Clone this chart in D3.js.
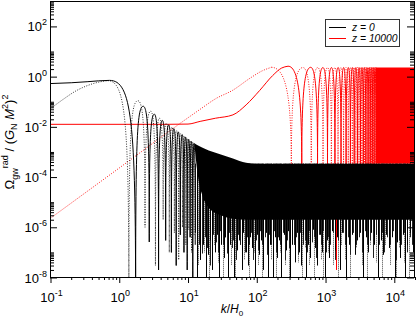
<!DOCTYPE html>
<html>
<head>
<meta charset="utf-8">
<script src="https://cdn.jsdelivr.net/npm/d3@7"></script>
<style>
body { margin: 0; background: #fff; }
svg { display: block; font-family: "Liberation Sans", Arial, Helvetica, sans-serif; }
</style>
</head>
<body>
<svg id="chart" width="417" height="321"></svg>
<script>
// ---- values (k/H0 , Omega) ----
// z = 0, solid
var s0Lead  = [[0.1,0.53],[0.2,0.57],[0.35,0.63],[0.5,0.68],[0.72,0.71]];
var s0Zeros = [[1.73,1e-9],[2.73,2.6e-7],[3.73,2e-8],[4.73,3e-7],[5.73,1e-7],[6.73,3e-8],[7.73,5e-7],[8.73,1e-7],[9.73,2e-8],[10.73,4e-7],[11.73,1e-9],[12.73,2e-7]];
var s0Peaks = [[2.23,0.066],[3.23,0.032],[4.23,0.018],[5.23,0.012],[6.23,0.0085],[7.23,0.0063],[8.23,0.0049],[9.23,0.0039],[10.23,0.0032],[11.23,0.0026],[12.23,0.0022]];
// z = 0, dotted
var d0Lead  = [[0.1,0.053],[0.15,0.12],[0.24,0.28],[0.33,0.42],[0.45,0.56],[0.6,0.66],[0.68,0.69]];
var d0Zeros = [[1.38,1e-9],[2.37,1e-6],[3.36,3e-8],[4.35,2e-6],[5.34,1e-7],[6.33,6e-7],[7.32,5e-8],[8.31,1e-6],[9.3,2e-7],[10.29,8e-7],[11.28,1e-7],[12.27,5e-7]];
var d0Peaks = [[1.87,0.11],[2.86,0.042],[3.85,0.022],[4.84,0.014],[5.83,0.0097],[6.82,0.0071],[7.81,0.0054],[8.8,0.0043],[9.79,0.0034],[10.78,0.0028],[11.77,0.0024]];
// z = 0, unresolved oscillation: [k, top, floor]
var band0 = [[12.4,2.2e-3,2e-3],[14,1.8e-3,1e-4],[16,1.5e-3,2e-5],[20,1.15e-3,6e-6],[30,8e-4,3e-6],[45,5.5e-4,2.2e-6],[70,3.7e-4,2e-6],[100,3.4e-4,2e-6],[2e4,3.4e-4,2e-6]];
// z = 0, troughs below the dense part
var spikes0 = [[13.5,1e-9],[15,5e-8],[16.5,2e-7],[18,1e-9],[19.5,8e-8],[21,3e-7],[22.5,2e-8],[24.5,1e-7],[26,5e-7],[28,1e-9],[30.5,2e-7],[33,6e-8],[35,4e-7],[38,1e-8],[41,2e-7],[44,7e-7],[47,1e-9],[51,1.2e-7],[55,3e-7],[60,2e-8],[64,6e-7],[69,1e-7],[75,3e-8],[80,4e-7],[86,1.5e-7],[93,1e-9],[100,5e-7],[108,8e-8],[116,3e-7],[125,2e-8],[135,6e-7],[145,1e-9],[157,2e-7],[170,1e-9],[183,4e-7],[197,6e-8],[212,3e-7],[228,1e-8],[246,5e-7],[265,1.2e-7],[285,7e-7],[305,1e-9],[330,2e-7],[355,4e-8],[382,6e-7],[410,1e-7],[442,3e-8],[475,5e-7],[526,1e-9],[560,2e-7],[600,6e-8],[650,8e-7],[700,1.5e-7],[760,3e-8],[820,5e-7],[890,1e-7],[970,1e-9],[1050,3e-7],[1140,6e-8],[1240,7e-7],[1350,1.2e-7],[1460,4e-7],[1600,2e-8],[1750,6e-7],[2005,1e-9],[2200,2e-7],[2400,5e-7],[2650,8e-8],[2900,3e-7],[3200,6e-7],[3500,1e-8],[3850,4e-7],[4200,1e-7],[4650,6e-7],[5100,2e-7],[5710,1e-9],[6300,3e-7],[6900,8e-8],[7600,5e-7],[8400,1.5e-7],[9200,4e-7],[10090,1e-9],[11000,2.5e-7],[12100,6e-8],[13200,5e-7],[14090,1e-9],[15500,2e-7],[17000,6e-7],[18500,1e-7],[19800,4e-7]];
var spikesMid0 = [[12.8,6e-7],[14.6,2e-7],[16,9e-8],[17.6,4e-7],[19,1.5e-7],[20.6,3e-8],[23,5e-7],[25.2,2.5e-7],[27.2,1e-7],[29.5,7e-7],[32,2e-7],[34,4e-7],[36.8,9e-8],[39.5,6e-7],[43,1.5e-7],[45.5,3e-7],[49.5,5e-8],[53,5e-7],[57.5,2e-7],[62,8e-7],[67,1e-7],[72,4e-7],[78,2e-7],[83,6e-7],[89,5e-8],[96,3e-7],[104,1.2e-7],[112,7e-7],[121,2e-7],[130,4e-7],[140,8e-8],[151,5e-7],[163,2e-7],[176,7e-7],[190,1e-7],[204,4e-7],[220,2e-7],[237,6e-7],[256,5e-8],[276,3e-7],[298,1.5e-7],[320,6e-7],[345,2e-7],[372,4e-7],[400,8e-8],[430,6e-7],[465,2e-7],[500,3e-7],[540,1e-7],[580,7e-7],[625,2.5e-7],[675,4e-7],[730,6e-8],[790,5e-7],[850,2e-7],[920,7e-7],[1000,1e-7],[1080,4e-7],[1170,2e-7],[1270,6e-7],[1380,5e-8],[1500,3e-7],[1630,1.5e-7],[1770,6e-7],[1920,2e-7],[2090,4e-7],[2280,8e-8],[2500,6e-7],[2750,2e-7],[3050,4e-7],[3350,1e-7],[3700,7e-7],[4050,2e-7],[4450,3e-7],[4900,6e-8],[5400,5e-7],[5950,2e-7],[6550,6e-7],[7200,1e-7],[7950,4e-7],[8750,2e-7],[9650,7e-7],[10600,5e-8],[11600,3e-7],[12700,2e-7],[13900,6e-7],[15200,1e-7],[16700,4e-7],[18300,2e-7],[19700,7e-7]];
var spikesDot0 = [[14.2,3e-8],[17.2,1e-7],[20.3,1e-8],[23.6,2e-7],[27,4e-8],[31.8,1e-8],[36.5,1e-7],[42.5,3e-8],[49,1e-8],[57,2e-7],[66,5e-8],[77,1e-8],[90,1e-7],[104,3e-8],[120,1e-8],[140,2e-7],[163,5e-8],[190,1e-8],[220,1e-7],[255,3e-8],[295,1e-8],[342,2e-7],[395,4e-8],[458,1e-8],[510,1.5e-7],[580,3e-8],[675,1e-8],[730,2e-7],[850,5e-8],[930,1e-8],[1100,1e-7],[1300,3e-8],[1530,1e-8],[1680,2e-7],[1900,5e-8],[2300,1e-8],[2770,1.5e-7],[3350,3e-8],[4000,1e-8],[4450,2e-7],[5400,4e-8],[6600,1e-8],[7300,2e-7],[8800,3e-8],[10500,1e-8],[11600,1.5e-7],[13700,4e-8],[16200,1e-8],[19000,2e-7]];
// z = 10000, solid
var s4Lead  = [[0.1,0.0126],[5,0.0126],[10,0.0129],[15,0.0165],[25,0.022],[45,0.03],[70,0.075],[110,0.28],[170,1.1],[230,2.2],[285,2.6]];
var s4Zeros = [[451,2e-4],[765,2e-4],[1068,2e-4],[1370,2e-4],[1680,2e-4],[1990,2e-4],[2300,2e-4],[2610,2e-4],[2920,2e-4],[3230,2e-4],[3540,2e-4],[3850,2e-4],[4160,2e-4],[4470,2e-4],[4780,2e-4],[5090,2e-4],[5400,2e-4]];
var s4Peaks = [[608,2.35],[916,2.3],[1219,2.3],[1525,2.3],[1835,2.3],[2145,2.3],[2455,2.3],[2765,2.3],[3075,2.3],[3385,2.3],[3695,2.3],[4005,2.3],[4315,2.3],[4625,2.3],[4935,2.3],[5245,2.3]];
// z = 10000, dotted
var d4Lead  = [[0.1,2.3e-6],[1,2.3e-4],[10,0.023],[15,0.05],[25,0.13],[45,0.29],[80,0.87],[120,1.7],[163,2.35]];
var d4Zeros = [[318,2e-4],[620,2e-4],[920,2e-4],[1215,2e-4],[1520,2e-4],[1830,2e-4],[2140,2e-4],[2450,2e-4],[2760,2e-4],[3070,2e-4],[3380,2e-4],[3690,2e-4],[4000,2e-4],[4310,2e-4],[4620,2e-4],[4930,2e-4],[5240,2e-4],[5550,2e-4]];
var d4Peaks = [[469,2.3],[770,2.3],[1068,2.3],[1368,2.3],[1675,2.3],[1985,2.3],[2295,2.3],[2605,2.3],[2915,2.3],[3225,2.3],[3535,2.3],[3845,2.3],[4155,2.3],[4465,2.3],[4775,2.3],[5085,2.3],[5395,2.3]];
var band4 = [[5400,2.3,3.4e-4],[2e4,2.3,3.4e-4]];
var spikes4 = [[330,3e-7],[1430,2e-8],[10500,2e-7]];

var xMajor = [0.1, 1, 10, 100, 1000, 10000];
var xExp = ["-1", "0", "1", "2", "3", "4"];
var yMajor = [1e-8, 1e-6, 1e-4, 1e-2, 1, 100];
var yExp = ["-8", "-6", "-4", "-2", "0", "2"];
var legendItems = [["z = 0", "#000"], ["z = 10000", "#ff0000"]];

// ---- layout ----
var X0 = 50.5, X1 = 414.5, Y0 = 1.5, Y1 = 277.5;
var svg = d3.select("#chart");
var x = d3.scaleLog().domain([0.1, 2e4]).range([X0, 415]);
var y = d3.scaleLog().domain([1e-8, 1e3]).range([Y1, 1.3]);

svg.append("clipPath").attr("id", "plot")
  .append("rect").attr("x", X0).attr("y", Y0).attr("width", X1 - X0).attr("height", Y1 - Y0);
var gPlot = svg.append("g").attr("clip-path", "url(#plot)");

// smooth lead-in, then arches: flat at the peaks, vertical at the zeros
function curvePath(lead, zeros, peaks) {
  var pts = lead.map(function(d) { return [x(d[0]), y(d[1])]; });
  var head = d3.line().curve(d3.curveMonotoneX)(pts);
  var p = d3.path();
  var prev = { x: pts[pts.length - 1][0], y: pts[pts.length - 1][1], zero: false };
  p.moveTo(prev.x, prev.y);
  zeros.forEach(function(z, i) {
    var seq = [{ x: x(z[0]), y: y(z[1]), zero: true }];
    if (peaks[i]) seq.push({ x: x(peaks[i][0]), y: y(peaks[i][1]), zero: false });
    seq.forEach(function(b) {
      var dx = Math.abs(b.x - prev.x);
      if (b.zero) {
        var bend = prev.y + Math.min(40, 0.5 * (b.y - prev.y));
        p.bezierCurveTo(b.x - 0.15 * dx, prev.y, b.x, bend, b.x, b.y);
      } else {
        var bend2 = b.y + Math.min(40, 0.5 * (prev.y - b.y));
        p.bezierCurveTo(prev.x, bend2, prev.x + 0.15 * dx, b.y, b.x, b.y);
      }
      prev = b;
    });
  });
  return head + p.toString();
}

var band = d3.area().curve(d3.curveMonotoneX)
  .x(function(d) { return x(d[0]); })
  .y0(function(d) { return y(d[2]); })
  .y1(function(d) { return y(d[1]); });

// vertical troughs, drawn from the flat top down to their depth
function spikePath(data) {
  var p = d3.path();
  data.forEach(function(d) {
    var sx = Math.round(x(d[0])) + 0.5;
    p.moveTo(sx, y(3.4e-4));
    p.lineTo(sx, y(d[1]));
  });
  return p.toString();
}

// z = 10000 underneath
gPlot.append("path").attr("d", curvePath(d4Lead, d4Zeros, d4Peaks))
  .attr("fill", "none").attr("stroke", "#ff0000").attr("stroke-width", 1)
  .attr("stroke-dasharray", "1,1.5").attr("opacity", 0.9);
gPlot.append("path").attr("d", curvePath(s4Lead, s4Zeros, s4Peaks))
  .attr("fill", "none").attr("stroke", "#ff0000").attr("stroke-width", 1);
gPlot.append("path").attr("d", band(band4)).attr("fill", "#ff0000");
gPlot.append("path").attr("d", spikePath(spikes4))
  .attr("fill", "none").attr("stroke", "#ff0000").attr("stroke-width", 1);

// z = 0 on top
gPlot.append("path").attr("d", spikePath(spikesDot0))
  .attr("fill", "none").attr("stroke", "#444").attr("stroke-width", 1).attr("stroke-dasharray", "1,1");
gPlot.append("path").attr("d", spikePath(spikesMid0))
  .attr("fill", "none").attr("stroke", "#222").attr("stroke-width", 1);
gPlot.append("path").attr("d", spikePath(spikes0))
  .attr("fill", "none").attr("stroke", "#000").attr("stroke-width", 1);
gPlot.append("path").attr("d", band(band0)).attr("fill", "#000");
gPlot.append("path").attr("d", curvePath(d0Lead, d0Zeros, d0Peaks))
  .attr("fill", "none").attr("stroke", "#000").attr("stroke-width", 1)
  .attr("stroke-dasharray", "1,1.5").attr("opacity", 0.8);
gPlot.append("path").attr("d", curvePath(s0Lead, s0Zeros, s0Peaks))
  .attr("fill", "none").attr("stroke", "#000").attr("stroke-width", 1);

// ---- axes ----
function minors(lo, hi, step, from, to) {
  var out = [];
  for (var e = lo; e <= hi; e += step)
    for (var m = from; m <= to; m++) out.push(m * Math.pow(10, e));
  return out;
}
var xMinor = minors(-1, 4, 1, 2, 9).filter(function(v) { return v <= 2e4; });
var yMinor = minors(-8, 2, 2, 2, 10);

function clean(g) { g.select(".domain").remove(); g.selectAll("line").attr("stroke", "#000"); }

svg.append("g").attr("transform", "translate(0," + (Y1 - 0.5) + ")")
  .call(d3.axisBottom(x).tickValues(xMajor).tickSize(6).tickFormat("")).call(clean);
svg.append("g").attr("transform", "translate(0," + (Y1 - 0.5) + ")")
  .call(d3.axisBottom(x).tickValues(xMinor).tickSize(3).tickFormat("")).call(clean);
[[X0 - 0.5, d3.axisLeft], [X1 - 0.5, d3.axisRight]].forEach(function(a) {
  svg.append("g").attr("transform", "translate(" + a[0] + ",0)")
    .call(a[1](y).tickValues(yMajor).tickSizeInner(-7).tickSizeOuter(0).tickFormat("")).call(clean);
  svg.append("g").attr("transform", "translate(" + a[0] + ",0)")
    .call(a[1](y).tickValues(yMinor).tickSizeInner(-4).tickSizeOuter(0).tickFormat("")).call(clean);
});

svg.append("rect").attr("x", X0).attr("y", Y0).attr("width", X1 - X0).attr("height", Y1 - Y0)
  .attr("fill", "none").attr("stroke", "#000").attr("stroke-width", 1);

// tick labels 10^n
svg.append("g").selectAll("text").data(xMajor).enter().append("text")
  .attr("x", function(d) { return x(d) + 1; }).attr("y", 302)
  .attr("text-anchor", "middle").attr("font-size", 13)
  .each(function(d, i) {
    var t = d3.select(this);
    t.append("tspan").text("10");
    t.append("tspan").attr("dy", -6).attr("font-size", 9).text(xExp[i]);
  });
svg.append("g").selectAll("text").data(yMajor).enter().append("text")
  .attr("x", 47).attr("y", function(d) { return y(d) + 5; })
  .attr("text-anchor", "end").attr("font-size", 13)
  .each(function(d, i) {
    var t = d3.select(this);
    t.append("tspan").text("10");
    t.append("tspan").attr("dy", -6).attr("font-size", 9).text(yExp[i]);
  });

// axis titles
var xt = svg.append("text").attr("x", 232).attr("y", 313).attr("text-anchor", "middle").attr("font-size", 12);
xt.append("tspan").attr("font-style", "italic").text("k");
xt.append("tspan").text("/");
xt.append("tspan").attr("font-style", "italic").text("H");
xt.append("tspan").attr("dy", 3).attr("font-size", 8).text("0");

var yt = svg.append("text").attr("transform", "translate(14,142) rotate(-90)")
  .attr("text-anchor", "middle").attr("font-size", 13);
yt.append("tspan").text("Ω");
yt.append("tspan").attr("dy", 4).attr("font-size", 9).text("gw");
yt.append("tspan").attr("dy", -10).attr("font-size", 9).text("rad");
yt.append("tspan").attr("dy", 6).text(" / (");
yt.append("tspan").attr("font-style", "italic").text("G");
yt.append("tspan").attr("dy", 3).attr("font-size", 9).text("N");
yt.append("tspan").attr("dy", -3).attr("font-style", "italic").text(" M");
yt.append("tspan").attr("dy", -6).attr("font-size", 9).text("2");
yt.append("tspan").attr("dy", 6).text(")");
yt.append("tspan").attr("dy", -6).attr("font-size", 9).text("2");

// legend
var lg = svg.append("g");
lg.append("rect").attr("x", 325.5).attr("y", 19.5).attr("width", 74).attr("height", 27)
  .attr("fill", "#fff").attr("stroke", "#333");
lg.selectAll("g").data(legendItems).enter().append("g")
  .attr("transform", function(d, i) { return "translate(0," + (27.5 + i * 11) + ")"; })
  .each(function(d) {
    var g = d3.select(this);
    g.append("line").attr("x1", 329).attr("x2", 346).attr("stroke", d[1]);
    g.append("text").attr("x", 352).attr("y", 3.5).attr("font-size", 10.3)
      .attr("font-style", "italic").text(d[0]);
  });
</script>
</body>
</html>
